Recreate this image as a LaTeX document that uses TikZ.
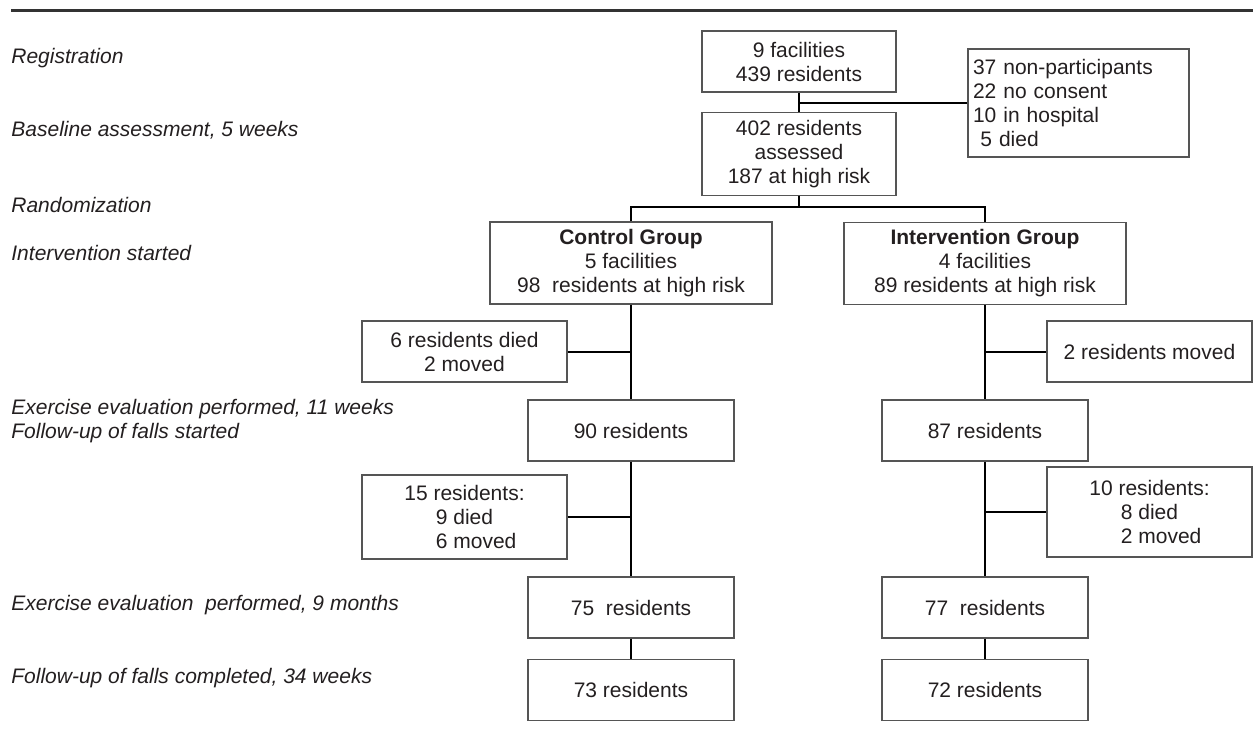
\documentclass[tikz,border=0pt]{standalone}
\usepackage{fontspec}
\setmainfont{Liberation Sans}
\usetikzlibrary{positioning,calc}
\definecolor{ink}{HTML}{231F20}
\definecolor{frame}{HTML}{555555}
\definecolor{rulegray}{HTML}{333333}

\begin{document}
\begin{tikzpicture}[x=0.5pt,y=-0.5pt,font=\fontsize{10.5}{12}\selectfont,text=ink,
  box/.style={draw=frame,line width=0.6pt,align=center,inner sep=0pt,minimum width=103pt,minimum height=30.5pt},
  group/.style={box,minimum width=141pt,minimum height=41pt},
  lost/.style={box,minimum width=102.5pt},
  stage/.style={anchor=west,inner sep=0pt,font=\fontsize{10.5}{12}\selectfont\itshape},
  link/.style={draw=black,line width=1pt}]
\useasboundingbox (0,0) rectangle (1253,734);
\draw[line width=1.5pt,rulegray] (11,10) -- (1253,10);
\node[stage] (s1) at (11,58) {Registration};
\node[stage] (s2) at (11,130) {Baseline assessment, 5 weeks};
\node[stage] (s3) at (11,205) {Randomization};
\node[stage] (s4) at (11,253) {Intervention started};
\node[stage,align=left] (s5) at (11,421) {Exercise evaluation performed, 11 weeks\\Follow-up of falls started};
\node[stage] (s6) at (11,605) {Exercise evaluation\ \ performed, 9 months};
\node[stage] (s7) at (11,678) {Follow-up of falls completed, 34 weeks};
\node[box,minimum width=97pt] (reg) at (799,61.5) {9 facilities\\439 residents};
\node[box,minimum width=97pt,minimum height=41.5pt,below=9.5pt of reg] (base) {402 residents\\assessed\\187 at high risk};
\node[box,align=left,text width=105.5pt,inner xsep=2.5pt,minimum height=54pt] (excl) at (1078.5,103) {37 non-participants\\22 no consent\\10 in hospital\\\hspace*{0.35em}5 died};
\node[group] (ctrl) at (631,263) {\textbf{Control Group}\\5 facilities\\98\ \ residents at high risk};
\node[group] (intv) at (985,263.5) {\textbf{Intervention Group}\\4 facilities\\89 residents at high risk};
\node[lost] (clost) at (464.5,351.5) {6 residents died\\2 moved};
\node[lost] (ilost) at (1149.5,351.5) {2 residents moved};
\node[box] (cwk) at (631,430.5) {90 residents};
\node[box] (iwk) at (985,430.5) {87 residents};
\node[lost,minimum height=42pt,align=left] (cdrop) at (464.5,517) {15 residents:\\\hspace*{1.5em}9 died\\\hspace*{1.5em}6 moved};
\node[lost,minimum height=45pt,align=left] (idrop) at (1149.5,512) {10 residents:\\\hspace*{1.5em}8 died\\\hspace*{1.5em}2 moved};
\node[box] (cm9) at (631,607.5) {75\ \ residents};
\node[box] (im9) at (985,607.5) {77\ \ residents};
\node[box,below=10pt of cm9] (cfu) {73 residents};
\node[box,below=10pt of im9] (ifu) {72 residents};
\coordinate (split) at ($(base.south)+(0,11)$);
\draw[link] (reg) -- (base);
\draw[link] (excl.west) -- (excl.west -| reg.south);
\draw[link] (base.south) -- (split);
\draw[link] (ctrl.north) |- (split) -| (intv.north);
\draw[link] (ctrl) -- (cwk);
\draw[link] (clost.east) -- (clost.east -| ctrl.south);
\draw[link] (cwk) -- (cm9);
\draw[link] (cdrop.east) -- (cdrop.east -| cwk.south);
\draw[link] (cm9) -- (cfu);
\draw[link] (intv) -- (iwk);
\draw[link] (ilost.west) -- (ilost.west -| intv.south);
\draw[link] (iwk) -- (im9);
\draw[link] (idrop.west) -- (idrop.west -| iwk.south);
\draw[link] (im9) -- (ifu);
\end{tikzpicture}
\end{document}
